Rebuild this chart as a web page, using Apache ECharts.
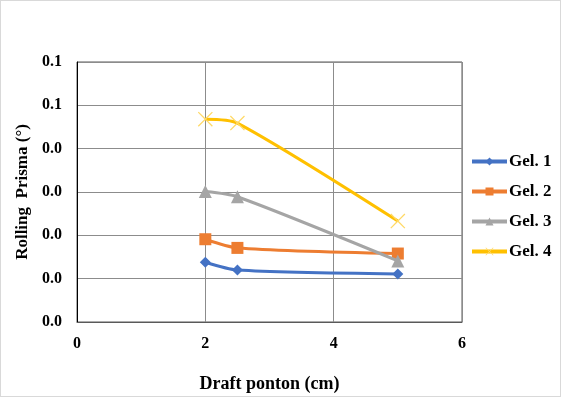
<!DOCTYPE html>
<html>
<head>
<meta charset="utf-8">
<script src="https://cdn.jsdelivr.net/npm/echarts@6/dist/echarts.min.js"></script>
<style>
html,body{margin:0;padding:0;background:#fff;}
#frame{position:absolute;left:0;top:0;width:559px;height:395px;border:1px solid #d9d9d9;}
#chart{position:absolute;left:0;top:0;width:561px;height:397px;}
</style>
</head>
<body>
<div id="frame"></div>
<div id="chart"></div>
<script>
const seriesNames = ['Gel. 1', 'Gel. 2', 'Gel. 3', 'Gel. 4'];
const draft = [2, 2.5, 5];
const gel1 = [0.0138, 0.0120, 0.0111];
const gel2 = [0.0191, 0.0171, 0.0158];
const gel3 = [0.0301, 0.0289, 0.0141];
const gel4 = [0.0468, 0.0459, 0.0233];
const yTickLabels = ['0.0', '0.0', '0.0', '0.0', '0.0', '0.1', '0.1'];
const xTickLabels = ['0', '2', '4', '6'];

const colors = ['#4472C4', '#ED7D31', '#A5A5A5', '#FFC000'];
const xSymbol = 'path://M0,0.6L0.6,0L5,4.4L9.4,0L10,0.6L5.6,5L10,9.4L9.4,10L5,5.6L0.6,10L0,9.4L4.4,5Z';
const symbols = ['diamond', 'rect', 'triangle', xSymbol];
const symbolSizes = [11, 12, 13, 15];
const allData = [gel1, gel2, gel3, gel4];
const font = 'Liberation Serif, Times New Roman, serif';

const chart = echarts.init(document.getElementById('chart'));
const series = allData.map((vals, i) => ({
  name: seriesNames[i],
  type: 'line',
  smooth: 0.25,
  data: draft.map((x, j) => [x, vals[j]]),
  symbol: symbols[i],
  symbolSize: symbolSizes[i],
  showAllSymbol: true,
  lineStyle: { color: colors[i], width: 3 },
  itemStyle: i === 3 ? { color: '#FFD966' } : { color: colors[i] },
  z: 2 + i
}));

chart.setOption({
  animation: false,
  textStyle: { fontFamily: font },
  grid: { left: 77, right: 99, top: 62, bottom: 75, show: true, borderColor: '#595959', borderWidth: 1,
    outerBoundsMode: 'none', containLabel: false },
  legend: {
    orient: 'vertical',
    left: 465,
    top: 148,
    itemWidth: 35,
    itemHeight: 10,
    itemGap: 13,
    lineStyle: { width: 4 },
    textStyle: { fontFamily: font, fontWeight: 'bold', fontSize: 17, color: '#000', padding: [0, 0, 0, -3] },
    data: seriesNames
  },
  xAxis: {
    type: 'value',
    min: 0, max: 6, interval: 2,
    name: 'Draft ponton (cm)',
    nameLocation: 'middle',
    nameGap: 53,
    nameTextStyle: { fontFamily: font, fontWeight: 'bold', fontSize: 18, color: '#000' },
    axisLine: { show: true, lineStyle: { color: '#595959', width: 1 } },
    axisTick: { show: false },
    axisLabel: { margin: 14, fontFamily: font, fontWeight: 'bold', fontSize: 16, color: '#000',
      formatter: (v, idx) => xTickLabels[idx] },
    splitLine: { show: true, lineStyle: { color: '#8c8c8c', width: 1 } }
  },
  yAxis: {
    type: 'value',
    min: 0, max: 0.06, interval: 0.01,
    name: 'Rolling  Prisma (°)',
    nameLocation: 'middle',
    nameGap: 37,
    nameTextStyle: { fontFamily: font, fontWeight: 'bold', fontSize: 17, color: '#000' },
    axisLine: { show: true, lineStyle: { color: '#000', width: 1 } },
    axisTick: { show: false },
    axisLabel: { margin: 15, fontFamily: font, fontWeight: 'bold', fontSize: 16, color: '#000',
      formatter: (v, idx) => yTickLabels[idx] },
    splitLine: { show: true, lineStyle: { color: '#8c8c8c', width: 1 } }
  },
  series: series
});
</script>
</body>
</html>
